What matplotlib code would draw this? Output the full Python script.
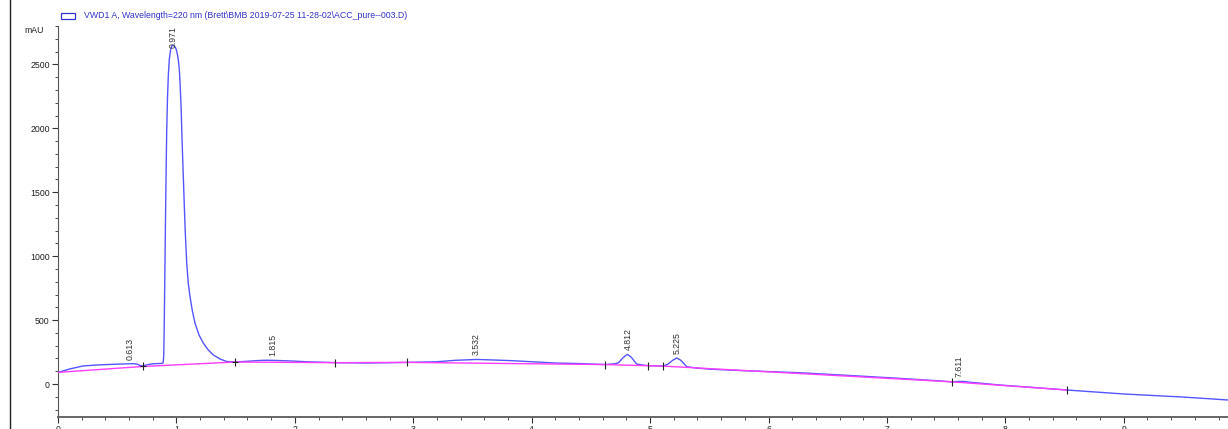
import matplotlib
matplotlib.use("Agg")
import matplotlib.pyplot as plt
from matplotlib.lines import Line2D
from matplotlib.ticker import MultipleLocator

plt.rcParams['font.family'] = ['Liberation Sans', 'DejaVu Sans']

# Detector trace (retention time in min, absorbance in mAU)
time_min = [0.00, 0.10, 0.21, 0.33, 0.44, 0.55, 0.636, 0.67, 0.69, 0.715, 0.75, 0.805,
            0.85, 0.884, 0.889, 0.893, 0.897, 0.901, 0.906, 0.912, 0.918, 0.925, 0.932,
            0.940, 0.950, 0.960, 0.970, 0.980, 0.990, 1.000, 1.010, 1.018, 1.025, 1.032,
            1.040, 1.048, 1.056, 1.064, 1.075, 1.087, 1.100, 1.115, 1.135, 1.157, 1.19,
            1.227, 1.27, 1.312, 1.37, 1.425, 1.495, 1.60, 1.70, 1.762, 1.85, 1.97, 2.10,
            2.342, 2.607, 2.945, 3.198, 3.35, 3.536, 3.705, 3.846, 4.00, 4.21, 4.40,
            4.622, 4.70, 4.733, 4.77, 4.808, 4.84, 4.887, 4.95, 4.986, 5.05, 5.113, 5.15,
            5.19, 5.225, 5.26, 5.31, 5.40, 5.507, 5.80, 6.267, 6.70, 7.111, 7.40, 7.548,
            7.60, 7.647, 7.70, 7.956, 8.25, 8.52, 9.0, 9.5, 9.88]
signal_mau = [91, 118, 141, 149, 153, 157, 159, 155, 146, 141, 150, 159,
              160, 162, 170, 230, 450, 750, 1150, 1600, 1984, 2250, 2420,
              2540, 2610, 2642, 2650, 2645, 2635, 2612, 2570, 2520, 2453, 2330,
              2150, 1900, 1680, 1463, 1180, 945, 790, 682, 570, 476, 385,
              320, 265, 227, 195, 176, 172, 178, 184, 186, 184, 180, 174,
              167, 164, 169, 174, 185, 192, 187, 182, 174, 164, 160,
              152, 158, 166, 205, 232, 210, 156, 147, 144, 142, 141, 155,
              185, 204, 185, 135, 124, 116, 104, 88, 66, 44, 27, 17,
              20, 20, 14, -8, -28, -47, -78, -102, -125]

# Integration baseline (drop points)
base_time = [0.00, 0.715, 1.495, 2.342, 2.945, 4.622, 4.986, 5.113, 7.548, 8.52]
base_mau = [91, 137, 172, 167, 169, 152, 143, 140, 17, -47]

# Peak events with their labelled retention times
peak_time = [0.613, 0.971, 1.815, 3.532, 4.812, 5.225, 7.611]
peak_height = [159, 2650, 186, 192, 232, 204, 20]
peak_label = ["0.613", "0.971", "1.815", "3.532", "4.812", "5.225", "7.611"]

# Integration tick marks
tick_time = [0.715, 1.495, 2.342, 2.945, 4.622, 4.986, 5.113, 7.548, 8.52]
tick_mau = [141, 172, 167, 169, 152, 144, 141, 17, -47]

trace_color = "#5555ff"
base_color = "#ff3cff"

fig = plt.figure(figsize=(12.28, 4.29), dpi=100)
ax = fig.add_axes([58 / 1228, 12 / 429, 1 - 58 / 1228, 391 / 429])

ax.plot(time_min, signal_mau, color=trace_color, lw=1.0, zorder=2)
ax.plot(base_time, base_mau, color=base_color, lw=1.0, zorder=3)
ax.plot(tick_time, tick_mau, ls="none", marker="|", ms=6, mew=0.8,
        color="#222222", zorder=4)
ax.plot(tick_time[:2], tick_mau[:2], ls="none", marker="_", ms=4, mew=0.8,
        color="#222222", zorder=4)

for t, h, lab in zip(peak_time, peak_height, peak_label):
    dy = -2 if h > 1000 else 3
    ax.annotate(lab, xy=(t, h), xytext=(0, dy), textcoords="offset points",
                rotation=90, ha="center", va="bottom", fontsize=6.3,
                color="#333333", zorder=5)

ax.set_xlim(0, 9.88)
ax.set_ylim(-258, 2800)
ax.xaxis.set_major_locator(MultipleLocator(1))
ax.xaxis.set_minor_locator(MultipleLocator(0.2))
ax.yaxis.set_major_locator(MultipleLocator(500))
ax.yaxis.set_minor_locator(MultipleLocator(100))

for side in ("top", "right"):
    ax.spines[side].set_visible(False)
ax.spines["left"].set_color("#555555")
ax.spines["left"].set_linewidth(0.8)
ax.spines["bottom"].set_color("#666666")
ax.spines["bottom"].set_linewidth(1.4)

ax.tick_params(axis="both", which="major", direction="out", length=4, width=0.8,
               color="#333333", labelsize=6.3, labelcolor="#222222", pad=2)
ax.tick_params(axis="both", which="minor", direction="out", length=2.5, width=0.6,
               color="#333333")

ax.text(-0.012, 1.0, "mAU", transform=ax.transAxes, ha="right", va="top",
        fontsize=6.3, color="#222222")

# Legend entry
fig.add_artist(plt.Rectangle((61 / 1228, 1 - 19 / 429), 14 / 1228, 6 / 429,
                             fill=False, edgecolor="#3333cc", lw=0.9,
                             transform=fig.transFigure))
fig.text(84 / 1228, 1 - 16 / 429,
         "VWD1 A, Wavelength=220 nm (Brett\\BMB 2019-07-25 11-28-02\\ACC_pure--003.D)",
         ha="left", va="center", fontsize=6.3, color="#3333cc")

# Outer frame line on the left
fig.add_artist(Line2D([10 / 1228, 10 / 1228], [0, 1], color="#222222", lw=1.0,
                      transform=fig.transFigure))

fig.savefig("out.png", dpi=100)
